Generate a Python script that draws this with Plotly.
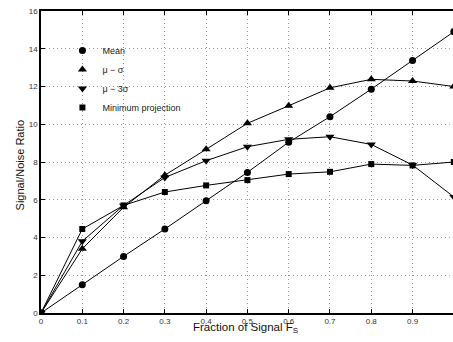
import plotly.graph_objects as go

fraction = [0.0, 0.1, 0.2, 0.3, 0.4, 0.5, 0.6, 0.7, 0.8, 0.9, 1.0]
mean_snr = [0.0, 1.5, 3.0, 4.45, 5.95, 7.45, 9.05, 10.4, 11.86, 13.38, 14.9]
mu_minus_sigma = [0.0, 3.4, 5.6, 7.3, 8.67, 10.05, 10.98, 11.93, 12.38, 12.29, 12.0]
mu_minus_3sigma = [0.0, 3.8, 5.7, 7.18, 8.07, 8.81, 9.2, 9.34, 8.93, 7.84, 6.15]
min_projection = [0.0, 4.45, 5.7, 6.41, 6.76, 7.04, 7.36, 7.48, 7.89, 7.82, 8.0]

x_ticks = [0, 0.1, 0.2, 0.3, 0.4, 0.5, 0.6, 0.7, 0.8, 0.9]
x_ticklabels = ["0", "0.1", "0.2", "0.3", "0.4", "0.5", "0.6", "0.7", "0.8", "0.9"]
y_ticks = [0, 2, 4, 6, 8, 10, 12, 14, 16]

series = [
    ("Mean", mean_snr, "circle", 7),
    ("\u03bc \u2212 \u03c3", mu_minus_sigma, "triangle-up", 8),
    ("\u03bc \u2212 3\u03c3", mu_minus_3sigma, "triangle-down", 8),
    ("Minimum projection", min_projection, "square", 6),
]

fig = go.Figure()
for i, (name, vals, sym, size) in enumerate(series):
    fig.add_trace(go.Scatter(
        x=fraction, y=vals, mode="lines+markers", name=name,
        line=dict(color="black", width=1),
        marker=dict(symbol=sym, size=size, color="black"),
        showlegend=False, legendgroup=str(i), cliponaxis=True,
    ))
    fig.add_trace(go.Scatter(
        x=[None], y=[None], mode="markers", name=name,
        marker=dict(symbol=sym, size=size, color="black"),
        showlegend=True, legendgroup=str(i),
    ))

font = "Liberation Sans, Arial, Helvetica, sans-serif"
fig.update_layout(
    width=453, height=342,
    margin=dict(l=41, r=0, t=11, b=29, autoexpand=False),
    paper_bgcolor="white", plot_bgcolor="white",
    font=dict(family=font, color="black", size=8),
    showlegend=True,
    legend=dict(
        x=0.052, y=0.917, xanchor="left", yanchor="top",
        bgcolor="rgba(0,0,0,0)", font=dict(size=9, color="#222"),
        itemwidth=30, tracegroupgap=0,
    ),
    xaxis=dict(
        range=[0, 0.998], tickvals=x_ticks, ticktext=x_ticklabels,
        showgrid=True, gridcolor="#999999", griddash="1px,3px", gridwidth=1,
        zeroline=False, showline=True, linecolor="black", linewidth=1.5,
        mirror="ticks", ticks="inside", ticklen=4, tickcolor="black",
        tickfont=dict(size=8, color="#333"), automargin=False,
    ),
    yaxis=dict(
        range=[0, 16], tickvals=y_ticks,
        showgrid=True, gridcolor="#999999", griddash="1px,3px", gridwidth=1,
        zeroline=False, showline=True, linecolor="black", linewidth=1.5,
        ticks="inside", ticklen=4, tickcolor="black",
        tickfont=dict(size=8, color="#333"), automargin=False,
    ),
    annotations=[
        dict(text="Fraction of Signal F<sub>S</sub>", xref="paper", yref="paper",
             x=0.497, y=-0.05, xanchor="center", yanchor="middle",
             showarrow=False, font=dict(size=11.5, color="#111")),
        dict(text="Signal/Noise Ratio", xref="paper", yref="paper",
             x=-0.05, y=0.49, xanchor="center", yanchor="middle", textangle=-90,
             showarrow=False, font=dict(size=11, color="#111")),
    ],
)

fig.write_html("out.html", config={"displayModeBar": False},
               post_script="document.body.style.margin='0px';")
